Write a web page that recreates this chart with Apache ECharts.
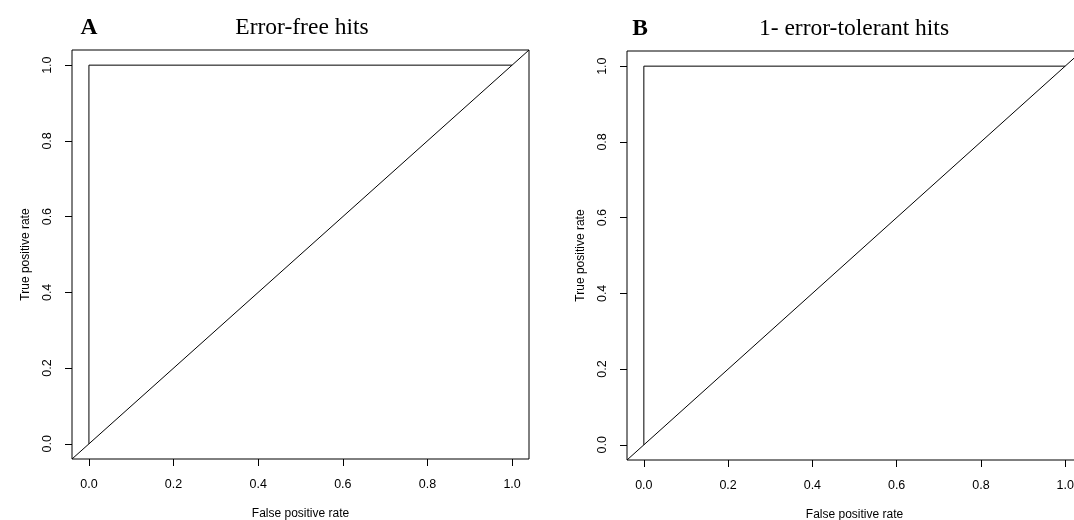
<!DOCTYPE html>
<html>
<head>
<meta charset="utf-8">
<script src="https://cdn.jsdelivr.net/npm/echarts@6/dist/echarts.min.js"></script>
<style>
html,body{margin:0;padding:0;background:#fff;}
#chart{width:1074px;height:520px;}
</style>
</head>
<body>
<div id="chart"></div>
<script>
// ---- data ----
const panelLetters = ['A', 'B'];
const panelTitles = ['Error-free hits', '1- error-tolerant hits'];
const tickValues = [0, 0.2, 0.4, 0.6, 0.8, 1.0];
const rocA_fpr = [0, 0, 1];
const rocA_tpr = [0, 1, 1];
const rocB_fpr = [0, 0, 1];
const rocB_tpr = [0, 1, 1];
const refLine = [-0.04, 1.04];   // abline(0,1) across the plot region
const axisMin = -0.04, axisMax = 1.04;
const xTitle = 'False positive rate';
const yTitle = 'True positive rate';

const SANS = 'Liberation Sans, Arial, sans-serif';
const SERIF = 'Liberation Serif, Times New Roman, serif';

const grids = [
  {left: 72, top: 50, width: 457, height: 409},
  {left: 627, top: 51, width: 455, height: 409}
];

function zip(xs, ys) { return xs.map((x, i) => [x, ys[i]]); }

const tickLabel = v => Number(v).toFixed(1);

function xAxisFor(i) {
  return {
    gridIndex: i, type: 'value', min: axisMin, max: axisMax, position: 'bottom',
    axisLine: {show: false, onZero: false},
    splitLine: {show: false},
    axisTick: {show: true, inside: false, length: 7, customValues: tickValues,
      lineStyle: {color: '#000', width: 1}},
    axisLabel: {show: true, customValues: tickValues, formatter: tickLabel,
      color: '#000', fontFamily: SANS, fontSize: 12.5, margin: 19},
    name: xTitle, nameLocation: 'middle', nameGap: 49,
    nameTextStyle: {color: '#000', fontFamily: SANS, fontSize: 12}
  };
}
function yAxisFor(i) {
  return {
    gridIndex: i, type: 'value', min: axisMin, max: axisMax, position: 'left',
    axisLine: {show: false, onZero: false},
    splitLine: {show: false},
    axisTick: {show: true, inside: false, length: 7, customValues: tickValues,
      lineStyle: {color: '#000', width: 1}},
    axisLabel: {show: true, customValues: tickValues, formatter: tickLabel, rotate: 90,
      color: '#000', fontFamily: SANS, fontSize: 12.5, margin: 18},
    name: yTitle, nameLocation: 'middle', nameGap: 40, nameRotate: 90,
    nameTextStyle: {color: '#000', fontFamily: SANS, fontSize: 12}
  };
}

const lineStyle = {color: '#000', width: 1};
function lineSeries(i, data) {
  return {
    type: 'line', xAxisIndex: i, yAxisIndex: i, data: data,
    showSymbol: false, symbol: 'none', silent: true, animation: false,
    lineStyle: lineStyle, clip: true
  };
}

const chart = echarts.init(document.getElementById('chart'), null, {renderer: 'canvas'});
chart.setOption({
  animation: false,
  backgroundColor: '#fff',
  grid: grids.map(g => Object.assign({show: true, borderColor: '#000', borderWidth: 1,
    backgroundColor: 'transparent', containLabel: false, outerBoundsMode: 'none'}, g)),
  xAxis: [xAxisFor(0), xAxisFor(1)],
  yAxis: [yAxisFor(0), yAxisFor(1)],
  series: [
    lineSeries(0, zip(rocA_fpr, rocA_tpr)),
    lineSeries(0, zip(refLine, refLine)),
    lineSeries(1, zip(rocB_fpr, rocB_tpr)),
    lineSeries(1, zip(refLine, refLine))
  ],
  graphic: [
    {type: 'text', x: 89, y: 28, style: {text: panelLetters[0], font: 'bold 23.5px ' + SERIF,
      fill: '#000', align: 'center', verticalAlign: 'middle'}},
    {type: 'text', x: 302, y: 28, style: {text: panelTitles[0], font: '23.5px ' + SERIF,
      fill: '#000', align: 'center', verticalAlign: 'middle'}},
    {type: 'text', x: 640, y: 29, style: {text: panelLetters[1], font: 'bold 23.5px ' + SERIF,
      fill: '#000', align: 'center', verticalAlign: 'middle'}},
    {type: 'text', x: 854, y: 29, style: {text: panelTitles[1], font: '23.5px ' + SERIF,
      fill: '#000', align: 'center', verticalAlign: 'middle'}}
  ]
});
</script>
</body>
</html>
